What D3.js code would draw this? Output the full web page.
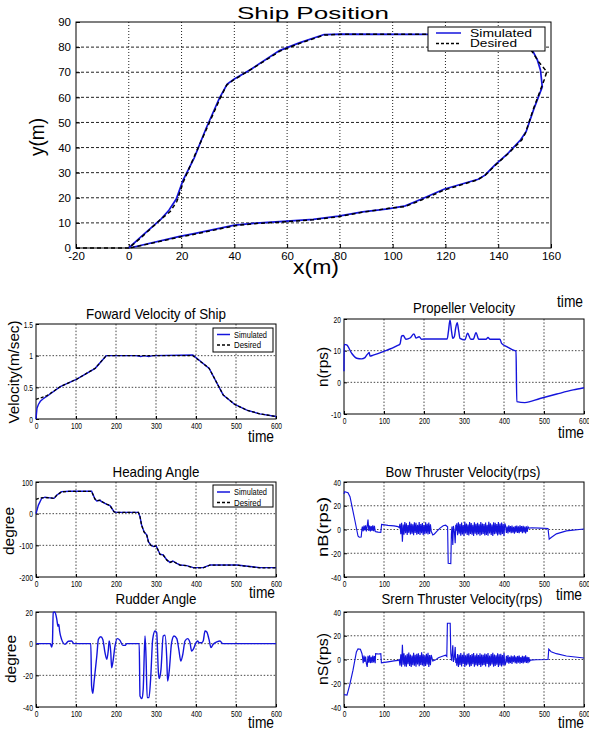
<!DOCTYPE html>
<html>
<head>
<meta charset="utf-8">
<script src="https://cdn.jsdelivr.net/npm/d3@7"></script>
<style>
  body { margin: 0; background: #fff; }
  text { font-family: "Liberation Sans", Arial, sans-serif; fill: #000; }
</style>
</head>
<body>
<svg id="fig" width="589" height="731"></svg>
<script>
// ---------- data ----------
const shipXTicks = [-20, 0, 20, 40, 60, 80, 100, 120, 140, 160];
const shipYTicks = [0, 10, 20, 30, 40, 50, 60, 70, 80, 90];
const timeTicks = [0, 100, 200, 300, 400, 500, 600];
const velTicks = [0, 0.5, 1, 1.5];
const propTicks = [-10, 0, 10, 20];
const headTicks = [-200, -100, 0, 100];
const thrTicks = [-40, -20, 0, 20, 40];
const rudTicks = [-40, -20, 0, 20];
const legendNames = ['Simulated', 'Desired'];

// ship position, x(m) / y(m)
const shipDesired = [[-20,0],[0,0],[4.3,3.8],[11.9,11.2],[15.7,14.5],[18.2,18.5],[20.7,26.4],[24.5,35.7],[29.6,47.7],[34.6,59.6],[37.1,64.9],[39.7,66.9],[46,70.9],[57.3,78.4],[64.8,81.5],[74.1,84.8],[80.6,85.1],[113.4,85.1],[150,85],[152.4,78.9],[155.3,74.2],[158.4,70.2],[157.4,66.9],[153.2,55],[150.3,45.7],[148.9,43],[143.9,37.7],[138.3,32.4],[135.2,29.1],[132.1,27.1],[119.6,23.1],[110.9,19.1],[104.6,16.5],[98.4,15.8],[88.4,14.2],[79.7,12.5],[69.7,11.2],[57.3,10.3],[48.5,9.8],[40.3,8.9],[24.5,5.4],[19.5,4.4],[0.5,0]];
const shipSimulated = [[0,0],[4.8,4.6],[12.3,11.6],[15.2,15.0],[18.0,19.5],[20.5,26.8],[24.8,35.9],[29.4,47.9],[34.4,59.8],[37.3,65.3],[40.0,67.3],[46.2,71.1],[57.1,78.6],[64.6,81.7],[74.0,85.0],[80.6,85.2],[113.4,85.1],[150,84.9],[152.6,79.4],[154.8,75.0],[156.0,70.9],[156.7,64.2],[153.5,55.4],[150.6,46.4],[148.5,43.1],[143.6,37.6],[138.6,32.9],[135.0,29.0],[132.4,27.4],[119.4,23.4],[111.0,19.5],[104.8,16.8],[98.2,15.6],[88.6,14.4],[79.5,12.7],[69.9,11.4],[57.1,10.5],[48.3,9.9],[40.1,9.1],[24.3,5.6],[19.3,4.6],[1.5,0.3]];

// forward velocity (m/sec) over time
const velSimulated = [[0,0],[2.5,0.17],[6,0.23],[10.8,0.28],[18,0.32],[27.5,0.36],[60.7,0.51],[102,0.63],[148,0.80],[175.6,1.0],[250,1.0],[262,0.985],[270,1.0],[282,0.985],[292,1.0],[392,1.01],[433,0.80],[452,0.57],[468,0.38],[497,0.23],[527,0.14],[560,0.08],[600,0.04]];
const velDesired = [[0,0.31],[19,0.35],[27.5,0.37],[60.7,0.51],[102,0.63],[148,0.80],[175.6,1.0],[392,1.0],[433,0.80],[452,0.57],[468,0.38],[497,0.23],[527,0.14],[560,0.08],[600,0.04]];

// propeller velocity (rps)
const propeller = [[0,3.5],[0.5,12],[6.7,11.8],[19,9.2],[31.7,7.6],[44,7.4],[52.5,7.8],[56.7,8.6],[61,9.2],[63,9.4],[65,8.3],[73,8.6],[98,9.7],[132,11.5],[140,12.1],[144,14.6],[148,14.8],[155,13.6],[165,14],[175,15.3],[180,14],[188,14.4],[194,13.6],[200,13.7],[258,13.7],[261,16],[265,19.7],[269,16],[272,13.9],[276,14.5],[279,17],[283,18.8],[287,16],[290,13.9],[302,13.4],[309,15.5],[317,13.6],[323,13.6],[330,15.7],[337,13.6],[355,13.6],[360,14.2],[365,13.6],[390,13.6],[394,12.3],[407,11.3],[427,10.0],[430,9.9],[432,-6.1],[452,-6.4],[490,-5.1],[532,-3.7],[573,-2.4],[600,-1.7]];

// heading angle (degree)
const headSimulated = [[0,0],[6,27],[14,48],[22.5,52],[35,50],[45,48.4],[51.7,58],[64,69.5],[85,71],[139,71],[147.5,46.3],[152,40],[160,42],[164,37.9],[177,29.5],[185,25.3],[195,6.3],[200,4.2],[256,4.2],[260,-9.5],[264,-35.8],[270,-56.8],[277,-67.4],[281,-88.4],[287,-99],[293,-104],[300,-101],[304,-111.6],[310,-128],[318,-130.5],[327,-146],[335,-153.7],[342,-149.5],[352,-156.8],[360,-162],[377,-164],[393,-170.5],[418,-170.5],[431,-164],[435,-162],[502,-162],[535,-167],[560,-170.5],[600,-170.5]];
const headDesired = [[0,45],[10,50],[22.5,51],[35,50],[45,48],[52,58.5],[64,69],[85,70.5],[139,70.5],[147,47],[152,41],[160,42.5],[164,38.5],[177,30],[185,25.8],[195,6],[200,3.8],[256,3.8],[260,-10],[264,-36.5],[270,-57.5],[277,-68],[281,-89],[287,-100],[293,-104.5],[300,-101.5],[304,-112],[310,-128.5],[318,-131],[327,-146.5],[335,-154],[342,-150],[352,-157.3],[360,-162.5],[377,-164.5],[393,-171],[418,-171],[431,-164.5],[435,-162.5],[502,-162.5],[535,-167.5],[560,-171],[600,-171]];

// bow thruster (rps): smooth pieces and sampled noisy stretches (2 s apart)
const bowStart = [[0,30],[1.7,31.9],[10,31],[15,27.6],[27,8],[35,-5.5],[38,-6.5],[43,-6.3],[45,1]];
const bowEarly = [2.4,-1.5,3.2,-0.8,3.6,-1.6,2.8,8.4,-1.2,3.4,-1.7,2.9,-1.1,3.5,-1.4,3.0,-1.6];
const bowMid1 = [[79,-1.8],[85,-2.2],[92,-2.5],[94,4.2],[110,3.5],[125,3.0],[135,2.4],[138,1.6]];
const bowBand1 = [4.8,-3.9,5.6,-10.2,4.1,-4.4,6.2,-3.1,5.3,-4.6,3.7,-2.8,6.4,-4.1,5.0,-3.6,4.4,-4.8,6.0,-2.9,5.7,-4.3,3.9,-3.8,6.3,-4.5,4.6,-3.2,5.4,-4.7,3.8,-4.0,6.1,-3.4,4.9,-4.2,5.8,-3.7,4.3];
const bowMid2 = [[218,-1.5],[222,-4.6],[226,-3.8],[232,-1.6],[240,1.2],[248,3.2],[254,3.6],[259,2.2],[260.5,-28.5],[267,-28.8],[268.5,-4],[270,2.5],[272,-13],[273.5,3],[276,-2],[278,-11.6],[279.5,4],[281,-1]];
const bowBand2 = [5.2,-4.9,6.1,-3.6,4.7,-5.3,5.9,-4.1,3.8,-5.5,6.4,-3.3,5.0,-4.6,4.2,-5.1,6.3,-3.8,5.5,-4.4,4.0,-5.4,6.0,-3.5,4.8,-4.9,5.7,-3.9,4.4,-5.2,6.2,-4.3,5.1,-3.7,4.6,-5.0,5.8,-4.5,3.9,-5.3,6.5,-3.4,5.3,-4.7,4.1,-5.5,6.0,-4.0,5.6,-3.6,4.5,-5.1,6.3,-4.2,5.0,-4.8,5.9,-3.8,4.7,-5.4,5.2];
const bowBand3 = [3.1,-2.8,2.5,-3.4,3.6,-2.2,2.9,-3.1,3.3,-2.6,2.2,-3.5,3.0,-2.4,3.4,-2.9,2.6,-3.2,3.5,-2.1,2.8,-3.0,3.2,-2.5,2.4,-3.3,2.7,-2.0,2.3];
const bowEnd = [[462,1.2],[470,1.5],[490,1.2],[510,0.9],[513,-8.2],[518,-6.8],[531,-3.7],[556,-1.2],[600,0.4]];

// stern thruster (rps)
const sternStart = [[0,-29.6],[7.5,-30],[14,-21.8],[22.5,-9],[31,6.3],[35,9],[41,8.6],[45,4.9]];
const sternEarly = [2.8,-3.2,3.4,-2.1,2.5,-3.4,-6.3,3.1,-2.6,3.5,-3.0,2.2,-2.8,3.3,-2.4,2.9,-3.1];
const sternMid1 = [[79,4.9],[86,4.6],[92,4.9],[93.5,-2.8],[110,-2.0],[125,-1.2],[135,-0.7],[138,-0.2]];
const sternBand1 = [-5.1,4.3,-6.0,12.4,-4.4,5.2,-5.8,3.6,-6.1,4.7,-3.9,5.9,-5.4,4.1,-6.2,3.4,-4.8,5.6,-5.2,3.9,-6.0,4.9,-4.2,5.3,-5.7,3.7,-4.6,6.1,-5.0,4.4,-5.9,3.5,-5.5,4.8,-4.1,5.7,-6.3,3.8,-4.7];
const sternMid2 = [[218,3.8],[222,-1.2],[228,-0.5],[236,1.5],[246,2.8],[254,3.6],[257,2.6],[258.5,30.5],[265.5,30.5],[267,5],[269,-1],[272,12],[273.5,-2],[276,2],[278,10.6],[279.5,-3],[281,1]];
const sternBand2 = [-5.3,4.6,-6.2,3.9,-4.7,5.4,-5.8,4.0,-3.7,5.6,-6.3,3.5,-5.0,4.8,-4.2,5.2,-6.1,3.7,-5.4,4.5,-4.0,5.5,-6.0,3.6,-4.9,5.0,-5.6,3.8,-4.5,5.3,-6.2,4.2,-5.1,3.9,-4.6,5.1,-5.9,4.4,-3.8,5.4,-6.4,3.3,-5.2,4.7,-4.1,5.6,-6.0,4.1,-5.5,3.5,-4.4,5.2,-6.2,4.3,-5.0,4.9,-5.8,3.7,-4.8,5.5,-5.1];
const sternBand3 = [-3.4,3.1,-2.6,3.8,-3.5,2.3,-3.0,3.3,-3.7,2.7,-2.3,3.6,-3.1,2.5,-3.5,3.0,-2.7,3.4,-3.6,2.1,-2.9,3.2,-3.3,2.6,-2.4,3.5,-2.8,2.2,-3.2,2.0,-1.5];
const sternEnd = [[466,-0.5],[480,-0.2],[510,0],[512,8.8],[518,6.5],[531,4.9],[556,2.9],[600,1.3]];

// rudder angle (degree)
const rudder = [[0,0],[35,0],[37,-0.6],[39,-2.1],[41,0],[43,19.6],[47,20],[52,15.4],[55,11],[57,12.2],[59,8],[64,2.7],[72.5,-0.4],[81,1.5],[89,1.7],[95,0],[137,0],[139,-26.7],[142,-31.4],[145,-24.6],[152,-7.8],[156,2.7],[162,4.4],[167,2.7],[172.5,-5.7],[177,-9.9],[181,-3.6],[183,1.7],[187,-5.7],[189,-15.2],[192,-12],[197.5,-1.5],[203,3.2],[210,2.1],[217,-1.1],[222.5,-1.1],[227,0],[258,0],[260,-33],[265,-34.7],[268,-28.8],[272.5,4.8],[275,-7.8],[278,-34.1],[282.5,-34],[287,-20.4],[291.7,2.7],[297.5,8],[301.7,7],[306,-18.3],[308,-22],[312.5,-16.2],[318,4.8],[322.5,5.3],[327,-9.9],[329,-23.6],[333,-17.3],[339,0.6],[345,4.8],[352,3.2],[357,-3.6],[362,-11],[367,-6.7],[372.5,1.7],[379,3.2],[385,0.6],[389,-4.6],[393,-3.6],[399,0],[404,1.7],[408,0.6],[414,0.6],[418,1.7],[422.5,8],[427,7.4],[432.5,2.7],[437.5,-2.5],[443,-0.4],[452,1.1],[460,1.7],[467,0],[600,0]];

// sampled stretch -> [t, value] pairs
function seg(t0, dt, vals) { return vals.map((v, i) => [t0 + i * dt, v]); }

const bowSeries = [].concat(bowStart, seg(46, 2, bowEarly), bowMid1, seg(140, 2, bowBand1), bowMid2, seg(282, 2, bowBand2), seg(404, 2, bowBand3), bowEnd);
const sternSeries = [].concat(sternStart, seg(46, 2, sternEarly), sternMid1, seg(140, 2, sternBand1), sternMid2, seg(282, 2, sternBand2), seg(404, 2, sternBand3), sternEnd);

// ---------- drawing ----------
const BLUE = '#1414dc';
const svg = d3.select('#fig');
svg.append('rect').attr('width', 589).attr('height', 731).attr('fill', '#fff');

// the small panels use a condensed face: squeeze each label to its measured width
function narrowWidth(s, digit) {
  let w = 0;
  for (const c of s) w += c === '.' ? digit * 0.5 : c === '-' ? digit * 0.7 : digit;
  return w;
}

function label(txt, x, y, size, len, rot) {
  const t = svg.append('text')
    .attr('x', x).attr('y', y)
    .attr('text-anchor', 'middle')
    .attr('font-size', size)
    .text(txt);
  if (len) t.attr('textLength', len).attr('lengthAdjust', 'spacingAndGlyphs');
  if (rot) t.attr('transform', `rotate(${rot},${x},${y})`);
  return t;
}

function legend(x0, y0, w, h, lineX1, lineX2, textX, y1, y2, size, lens) {
  const g = svg.append('g');
  g.append('rect').attr('x', x0).attr('y', y0).attr('width', w).attr('height', h)
    .attr('fill', '#fff').attr('stroke', '#000').attr('stroke-width', 1);
  g.append('line').attr('x1', lineX1).attr('x2', lineX2).attr('y1', y1).attr('y2', y1)
    .attr('stroke', BLUE).attr('stroke-width', 1.5);
  g.append('line').attr('x1', lineX1).attr('x2', lineX2).attr('y1', y2).attr('y2', y2)
    .attr('stroke', '#000').attr('stroke-width', 1.5).attr('stroke-dasharray', '3,2');
  g.selectAll('text.leg').data(legendNames).enter().append('text')
    .attr('x', textX).attr('y', (d, i) => (i ? y2 : y1) + size * 0.36)
    .attr('font-size', size)
    .attr('textLength', (d, i) => lens[i]).attr('lengthAdjust', 'spacingAndGlyphs')
    .text(d => d);
}

// ----- Ship Position -----
(function () {
  const L = 76, R = 551, T = 22, B = 248;
  const x = d3.scaleLinear().domain([-20, 160]).range([L, R]);
  const y = d3.scaleLinear().domain([0, 90]).range([B, T]);

  svg.selectAll('line.sgx').data(shipXTicks.slice(1, -1)).enter().append('line')
    .attr('x1', d => x(d)).attr('x2', d => x(d)).attr('y1', T).attr('y2', B)
    .attr('stroke', '#222').attr('stroke-width', 1).attr('stroke-dasharray', '1,2');
  svg.selectAll('line.sgy').data(shipYTicks.slice(1, -1)).enter().append('line')
    .attr('x1', L).attr('x2', R).attr('y1', d => y(d)).attr('y2', d => y(d))
    .attr('stroke', '#222').attr('stroke-width', 1).attr('stroke-dasharray', '3,2');

  const ax = svg.append('g').attr('transform', `translate(0,${B})`)
    .call(d3.axisBottom(x).tickValues(shipXTicks).tickFormat(d => d).tickSizeInner(-4).tickSizeOuter(0).tickPadding(4));
  const ay = svg.append('g').attr('transform', `translate(${L},0)`)
    .call(d3.axisLeft(y).tickValues(shipYTicks).tickFormat(d => d).tickSizeInner(-4).tickSizeOuter(0).tickPadding(5));
  [ax, ay].forEach(a => {
    a.select('.domain').remove();
    a.selectAll('text').attr('font-size', 11.5).style('font-family', '"Liberation Sans",Arial,sans-serif').attr('fill', '#000');
  });

  svg.append('rect').attr('x', L).attr('y', T).attr('width', R - L).attr('height', B - T)
    .attr('fill', 'none').attr('stroke', '#000').attr('stroke-width', 1);

  const line = d3.line().x(d => x(d[0])).y(d => y(d[1]));
  svg.append('path').datum(shipSimulated).attr('d', line)
    .attr('fill', 'none').attr('stroke', BLUE).attr('stroke-width', 1.7);
  svg.append('path').datum(shipDesired).attr('d', line)
    .attr('fill', 'none').attr('stroke', '#000').attr('stroke-width', 1.5).attr('stroke-dasharray', '4,3');

  legend(428, 27, 117, 24, 436, 461, 470, 33, 43.5, 10.5, [62, 47]);

  label('Ship Position', 313, 19, 17, 152);
  label('x(m)', 316, 274, 20, 46);
  label('y(m)', 44, 137, 20, 38, -90);
})();

// ----- small panels -----
function panel(p) {
  const x = d3.scaleLinear().domain([0, 600]).range([p.l, p.r]);
  const y = d3.scaleLinear().domain(p.yd).range([p.b, p.t]);
  const g = svg.append('g');

  g.selectAll('line.gx').data(timeTicks.slice(1, -1)).enter().append('line')
    .attr('x1', d => x(d)).attr('x2', d => x(d)).attr('y1', p.t).attr('y2', p.b)
    .attr('stroke', '#333').attr('stroke-width', 0.9).attr('stroke-dasharray', '1.5,1.8');
  g.selectAll('line.gy').data(p.yt.slice(1, -1)).enter().append('line')
    .attr('x1', p.l).attr('x2', p.r).attr('y1', d => y(d)).attr('y2', d => y(d))
    .attr('stroke', '#333').attr('stroke-width', 0.9).attr('stroke-dasharray', '1.5,1.8');

  const ax = g.append('g').attr('transform', `translate(0,${p.b})`)
    .call(d3.axisBottom(x).tickValues(timeTicks).tickFormat(d => d).tickSizeInner(-3).tickSizeOuter(0).tickPadding(3));
  const ay = g.append('g').attr('transform', `translate(${p.l},0)`)
    .call(d3.axisLeft(y).tickValues(p.yt).tickFormat(d => d).tickSizeInner(-3).tickSizeOuter(0).tickPadding(3));
  [ax, ay].forEach(a => {
    a.select('.domain').remove();
    a.selectAll('text').attr('font-size', 9.5).attr('fill', '#000')
      .style('font-family', '"Liberation Sans",Arial,sans-serif')
      .attr('textLength', function () { return narrowWidth(this.textContent, 3.7); })
      .attr('lengthAdjust', 'spacingAndGlyphs');
  });

  g.append('rect').attr('x', p.l).attr('y', p.t).attr('width', p.r - p.l).attr('height', p.b - p.t)
    .attr('fill', 'none').attr('stroke', '#000').attr('stroke-width', 1);

  const line = d3.line().x(d => x(d[0])).y(d => y(d[1])).curve(p.curve || d3.curveLinear);
  g.append('path').datum(p.sim).attr('d', line)
    .attr('fill', 'none').attr('stroke', BLUE).attr('stroke-width', p.sw || 1.4);
  if (p.des) {
    g.append('path').datum(p.des).attr('d', line)
      .attr('fill', 'none').attr('stroke', '#000').attr('stroke-width', 1.3).attr('stroke-dasharray', '3,2');
  }

  label(p.title, p.tx, p.ty, 15, p.tw);
  label(p.ylab, p.yx, p.yy, 15, p.yw, -90);
}

panel({ l: 36, r: 276, t: 324, b: 419, yd: [0, 1.5], yt: velTicks, sim: velSimulated, des: velDesired,
  title: 'Foward Velocity of Ship', tx: 156, ty: 319, tw: 140,
  ylab: 'Velocity(m/sec)', yx: 19, yy: 372, yw: 103 });
legend(213, 328, 60, 24, 217, 230, 234, 334.5, 345, 8.5, [33, 27]);

panel({ l: 344, r: 584, t: 319, b: 414, yd: [-10, 20], yt: propTicks, sim: propeller, curve: d3.curveMonotoneX,
  title: 'Propeller Velocity', tx: 464, ty: 313, tw: 102,
  ylab: 'n(rps)', yx: 328, yy: 367, yw: 40 });

panel({ l: 36, r: 276, t: 482, b: 577, yd: [-200, 100], yt: headTicks, sim: headSimulated, des: headDesired,
  title: 'Heading Angle', tx: 156, ty: 477, tw: 87,
  ylab: 'degree', yx: 14, yy: 531, yw: 48 });
legend(213, 485, 60, 22, 217, 230, 234, 492, 502.5, 8.5, [33, 27]);

panel({ l: 344, r: 584, t: 482, b: 577, yd: [-40, 40], yt: thrTicks, sim: bowSeries, sw: 1.15,
  title: 'Bow Thruster Velocity(rps)', tx: 463, ty: 477, tw: 155,
  ylab: 'nB(rps)', yx: 328, yy: 527, yw: 60 });

panel({ l: 36, r: 276, t: 612, b: 707, yd: [-40, 20], yt: rudTicks, sim: rudder, curve: d3.curveMonotoneX,
  title: 'Rudder Angle', tx: 156, ty: 604, tw: 81,
  ylab: 'degree', yx: 16, yy: 659, yw: 48 });

panel({ l: 344, r: 584, t: 612, b: 707, yd: [-40, 40], yt: thrTicks, sim: sternSeries, sw: 1.15,
  title: 'Srern Thruster Velocity(rps)', tx: 462, ty: 604, tw: 161,
  ylab: 'nS(rps)', yx: 328, yy: 659, yw: 52 });

// "time" axis labels, where they stand in the figure
const timeLabels = [[261, 442], [570, 307], [571, 438], [262, 598], [569, 600], [261, 728], [571, 728]];
timeLabels.forEach(p => label('time', p[0], p[1], 16, 26));
</script>
</body>
</html>
